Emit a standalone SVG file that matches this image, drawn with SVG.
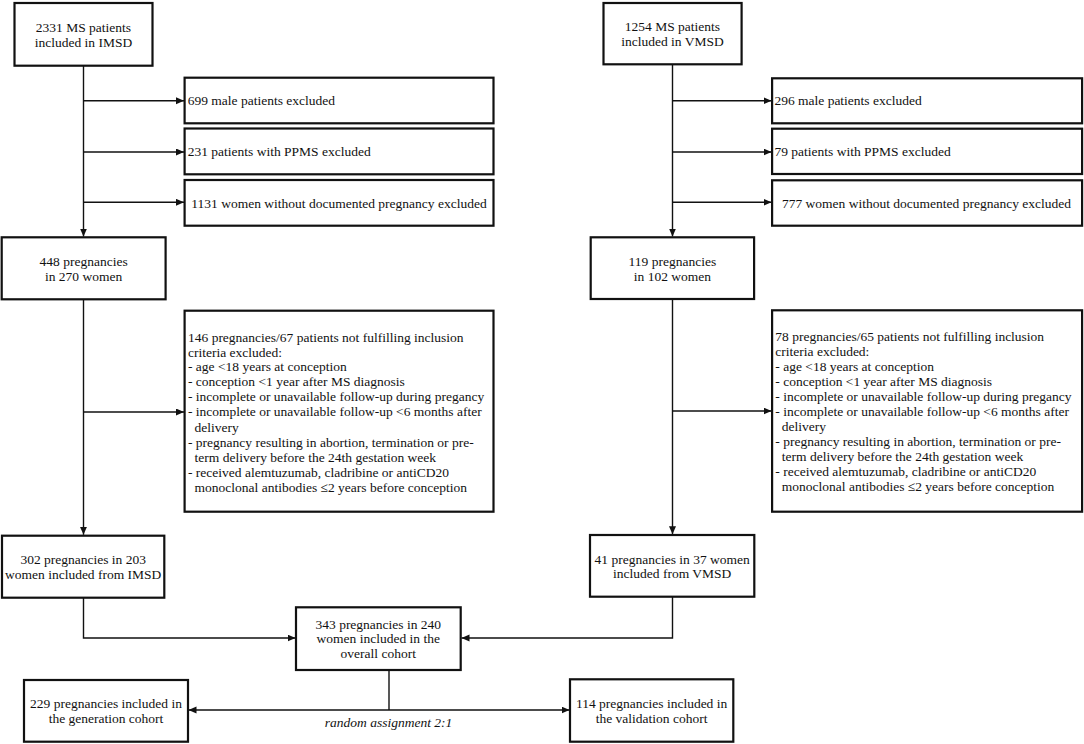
<svg xmlns="http://www.w3.org/2000/svg" width="1084" height="744" viewBox="0 0 1084 744">
<defs>
<style>
.box{fill:#fff;stroke:#111;stroke-width:2.2}
.t{font-family:"Liberation Serif","Times New Roman",serif;font-size:13.5px;fill:#111}
.c{text-anchor:middle}
.i{font-style:italic}
.ln{fill:none;stroke:#111;stroke-width:1.4}
</style>
<marker id="ah" markerUnits="userSpaceOnUse" markerWidth="9" markerHeight="8" refX="8" refY="3.5" orient="auto">
<path d="M0,0 L8,3.5 L0,7 z" fill="#111"/>
</marker>
</defs>
<rect width="1084" height="744" fill="#fff"/>

<g id="connectors">
<line class="ln" x1="83.5" y1="66" x2="83.5" y2="236.5" marker-end="url(#ah)"/>
<line class="ln" x1="83.5" y1="100.7" x2="184" y2="100.7" marker-end="url(#ah)"/>
<line class="ln" x1="83.5" y1="152" x2="184" y2="152" marker-end="url(#ah)"/>
<line class="ln" x1="83.5" y1="202.3" x2="184" y2="202.3" marker-end="url(#ah)"/>
<line class="ln" x1="83.5" y1="299.5" x2="83.5" y2="534.8" marker-end="url(#ah)"/>
<line class="ln" x1="83.5" y1="412" x2="184" y2="412" marker-end="url(#ah)"/>
<path class="ln" d="M83.5,598 V638 H295.5" marker-end="url(#ah)"/>

<line class="ln" x1="672.5" y1="64.5" x2="672.5" y2="236.5" marker-end="url(#ah)"/>
<line class="ln" x1="672.5" y1="100.7" x2="771.5" y2="100.7" marker-end="url(#ah)"/>
<line class="ln" x1="672.5" y1="152" x2="771.5" y2="152" marker-end="url(#ah)"/>
<line class="ln" x1="672.5" y1="202.3" x2="771.5" y2="202.3" marker-end="url(#ah)"/>
<line class="ln" x1="672.5" y1="299.5" x2="672.5" y2="534.2" marker-end="url(#ah)"/>
<line class="ln" x1="672.5" y1="411" x2="771.5" y2="411" marker-end="url(#ah)"/>
<path class="ln" d="M672.5,597 V638 H461.5" marker-end="url(#ah)"/>

<line class="ln" x1="389" y1="670" x2="389" y2="710"/>
<line class="ln" x1="389" y1="710" x2="188.5" y2="710" marker-end="url(#ah)"/>
<line class="ln" x1="389" y1="710" x2="569.5" y2="710" marker-end="url(#ah)"/>
<text class="t c i" x="388.5" y="726.5">random assignment 2:1</text>
</g>

<g id="imsd">
<rect class="box" x="14.5" y="3" width="138" height="62.7"/>
<text class="t c" x="83.5" y="31.5">2331 MS patients</text>
<text class="t c" x="83.5" y="46.8">included in IMSD</text>
</g>
<g id="imsd-male">
<rect class="box" x="184.6" y="77.7" width="308.9" height="45.6"/>
<text class="t" x="187.7" y="105">699 male patients excluded</text>
</g>
<g id="imsd-ppms">
<rect class="box" x="184.6" y="128.5" width="308.9" height="45.8"/>
<text class="t" x="187.7" y="156.3">231 patients with PPMS excluded</text>
</g>
<g id="imsd-nopreg">
<rect class="box" x="184.6" y="180" width="308.9" height="45.7"/>
<text class="t c" x="339" y="207.5">1131 women without documented pregnancy excluded</text>
</g>
<g id="imsd-preg">
<rect class="box" x="1.7" y="237.3" width="163.9" height="62"/>
<text class="t c" x="83.6" y="265.5">448 pregnancies</text>
<text class="t c" x="83.6" y="280.8">in 270 women</text>
</g>
<g id="imsd-criteria">
<rect class="box" x="184.6" y="310.7" width="308.9" height="201"/>
<text class="t" x="188" y="341.5">146 pregnancies/67 patients not fulfilling inclusion</text>
<text class="t" x="188" y="356.5">criteria excluded:</text>
<text class="t" x="188" y="371.3">- age &lt;18 years at conception</text>
<text class="t" x="188" y="386.3">- conception &lt;1 year after MS diagnosis</text>
<text class="t" x="188" y="401.3">- incomplete or unavailable follow-up during pregancy</text>
<text class="t" x="188" y="416.3">- incomplete or unavailable follow-up &lt;6 months after</text>
<text class="t" x="194.6" y="431.5">delivery</text>
<text class="t" x="188" y="446.5">- pregnancy resulting in abortion, termination or pre-</text>
<text class="t" x="194.6" y="461.5">term delivery before the 24th gestation week</text>
<text class="t" x="188" y="476.5">- received alemtuzumab, cladribine or antiCD20</text>
<text class="t" x="194.6" y="491.5">monoclonal antibodies ≤2 years before conception</text>
</g>
<g id="imsd-incl">
<rect class="box" x="2" y="535.7" width="162.3" height="62"/>
<text class="t c" x="83.2" y="564">302 pregnancies in 203</text>
<text class="t c" x="83.2" y="579">women included from IMSD</text>
</g>

<g id="vmsd">
<rect class="box" x="603.5" y="3" width="138.1" height="61.3"/>
<text class="t c" x="672.5" y="31">1254 MS patients</text>
<text class="t c" x="672.5" y="46.3">included in VMSD</text>
</g>
<g id="vmsd-male">
<rect class="box" x="772.1" y="78.3" width="310" height="45"/>
<text class="t" x="774.4" y="105">296 male patients excluded</text>
</g>
<g id="vmsd-ppms">
<rect class="box" x="772.1" y="128.7" width="310" height="45.3"/>
<text class="t" x="774.4" y="156.3">79 patients with PPMS excluded</text>
</g>
<g id="vmsd-nopreg">
<rect class="box" x="772.1" y="180.3" width="310" height="45.4"/>
<text class="t c" x="926.5" y="207.5">777 women without documented pregnancy excluded</text>
</g>
<g id="vmsd-preg">
<rect class="box" x="590.7" y="237.3" width="163.4" height="61.7"/>
<text class="t c" x="672.4" y="265.5">119 pregnancies</text>
<text class="t c" x="672.4" y="280.8">in 102 women</text>
</g>
<g id="vmsd-criteria">
<rect class="box" x="772.1" y="310.3" width="310" height="201.4"/>
<text class="t" x="775.3" y="341">78 pregnancies/65 patients not fulfilling inclusion</text>
<text class="t" x="775.3" y="356">criteria excluded:</text>
<text class="t" x="775.3" y="371">- age &lt;18 years at conception</text>
<text class="t" x="775.3" y="386">- conception &lt;1 year after MS diagnosis</text>
<text class="t" x="775.3" y="401">- incomplete or unavailable follow-up during pregancy</text>
<text class="t" x="775.3" y="416">- incomplete or unavailable follow-up &lt;6 months after</text>
<text class="t" x="781.8" y="431">delivery</text>
<text class="t" x="775.3" y="446">- pregnancy resulting in abortion, termination or pre-</text>
<text class="t" x="781.8" y="461">term delivery before the 24th gestation week</text>
<text class="t" x="775.3" y="476">- received alemtuzumab, cladribine or antiCD20</text>
<text class="t" x="781.8" y="491">monoclonal antibodies ≤2 years before conception</text>
</g>
<g id="vmsd-incl">
<rect class="box" x="590" y="535" width="164.3" height="61.7"/>
<text class="t c" x="672.2" y="563.5">41 pregnancies in 37 women</text>
<text class="t c" x="672.2" y="578.3">included from VMSD</text>
</g>

<g id="overall">
<rect class="box" x="296" y="607.3" width="164.7" height="62.7"/>
<text class="t c" x="378.3" y="628.5">343 pregnancies in 240</text>
<text class="t c" x="378.3" y="643">women included in the</text>
<text class="t c" x="378.3" y="658">overall cohort</text>
</g>
<g id="generation">
<rect class="box" x="24" y="680" width="164" height="61.7"/>
<text class="t c" x="106" y="707.5">229 pregnancies included in</text>
<text class="t c" x="106" y="722.8">the generation cohort</text>
</g>
<g id="validation">
<rect class="box" x="570" y="679.3" width="163.3" height="62.4"/>
<text class="t c" x="651.6" y="707.5">114 pregnancies included in</text>
<text class="t c" x="651.6" y="722.8">the validation cohort</text>
</g>
</svg>
